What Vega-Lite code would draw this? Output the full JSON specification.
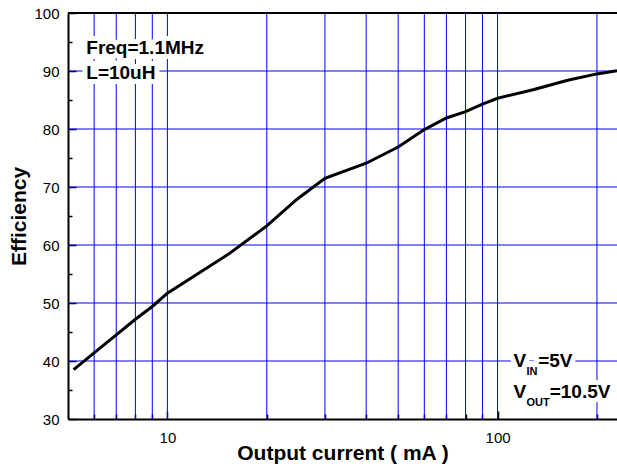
{
  "$schema": "https://vega.github.io/schema/vega-lite/v6.json",
  "width": 549,
  "height": 406,
  "autosize": {"type": "none"},
  "padding": {"left": 68, "top": 13, "right": 0, "bottom": 51},
  "config": {
    "view": {"stroke": null},
    "font": "Liberation Sans",
    "axis": {
      "domainColor": "black",
      "domainWidth": 2,
      "tickColor": "black",
      "tickWidth": 1.5,
      "grid": false,
      "labelFont": "Liberation Sans",
      "labelFontSize": 15,
      "labelColor": "black",
      "titleFont": "Liberation Sans",
      "titleFontSize": 21,
      "titleFontWeight": "bold",
      "titleColor": "black"
    }
  },
  "datasets": {
    "curve": [
      {"current": 5.2, "eff": 38.5},
      {"current": 6, "eff": 41.4},
      {"current": 7, "eff": 44.5},
      {"current": 8, "eff": 47.2},
      {"current": 9, "eff": 49.4},
      {"current": 10, "eff": 51.7},
      {"current": 15.2, "eff": 58.3},
      {"current": 20, "eff": 63.3},
      {"current": 24.7, "eff": 67.9},
      {"current": 30, "eff": 71.5},
      {"current": 40, "eff": 74.1},
      {"current": 50, "eff": 76.9},
      {"current": 60, "eff": 79.9},
      {"current": 70, "eff": 81.9},
      {"current": 80, "eff": 83.0},
      {"current": 90, "eff": 84.3},
      {"current": 100, "eff": 85.3},
      {"current": 129, "eff": 86.8},
      {"current": 163, "eff": 88.4},
      {"current": 200, "eff": 89.5},
      {"current": 230, "eff": 90.05}
    ],
    "vgrid": [
      {"current": 6, "eff": 30, "top": 100},
      {"current": 7, "eff": 30, "top": 100},
      {"current": 8, "eff": 30, "top": 100},
      {"current": 9, "eff": 30, "top": 100},
      {"current": 10, "eff": 30, "top": 100},
      {"current": 20, "eff": 30, "top": 100},
      {"current": 30, "eff": 30, "top": 100},
      {"current": 40, "eff": 30, "top": 100},
      {"current": 50, "eff": 30, "top": 100},
      {"current": 60, "eff": 30, "top": 100},
      {"current": 70, "eff": 30, "top": 100},
      {"current": 80, "eff": 30, "top": 100},
      {"current": 90, "eff": 30, "top": 100},
      {"current": 100, "eff": 30, "top": 100},
      {"current": 200, "eff": 30, "top": 100}
    ],
    "hgrid": [
      {"current": 5, "end": 230, "eff": 40},
      {"current": 5, "end": 230, "eff": 50},
      {"current": 5, "end": 230, "eff": 60},
      {"current": 5, "end": 230, "eff": 70},
      {"current": 5, "end": 230, "eff": 80},
      {"current": 5, "end": 230, "eff": 90}
    ],
    "big": [
      {"label": "Freq=1.1MHz", "current": 5.68, "eff": 92.93},
      {"label": "L=10uH", "current": 5.68, "eff": 88.62},
      {"label": "V", "current": 111.8, "eff": 38.97},
      {"label": "=5V", "current": 132.7, "eff": 38.97},
      {"label": "V", "current": 111.8, "eff": 33.62},
      {"label": "=10.5V", "current": 143.8, "eff": 33.62}
    ],
    "sub": [
      {"label": "IN", "current": 122.4, "eff": 37.59},
      {"label": "OUT", "current": 122.4, "eff": 32.24}
    ],
    "frame": [
      {"current": 5, "end": 230, "eff": 100}
    ]
  },
  "encoding": {
    "x": {
      "field": "current",
      "type": "quantitative",
      "scale": {"type": "log", "domain": [5, 230], "nice": false},
      "axis": {
        "title": "Output current ( mA )",
        "values": [6, 7, 8, 9, 10, 20, 30, 40, 50, 60, 70, 80, 90, 100, 200],
        "labelExpr": "(datum.value == 10 || datum.value == 100) ? format(datum.value, 'd') : ''",
        "grid": false,
        "tickSize": {"condition": {"test": "datum.value == 10 || datum.value == 100", "value": -8}, "value": -5},
        "labelPadding": 19,
        "titleBaseline": "alphabetic",
        "titleY": 40
      }
    },
    "y": {
      "field": "eff",
      "type": "quantitative",
      "scale": {"domain": [30, 100], "nice": false},
      "axis": {
        "title": "Efficiency",
        "values": [30, 35, 40, 45, 50, 55, 60, 65, 70, 75, 80, 85, 90, 95, 100],
        "labelExpr": "datum.value % 10 == 0 ? format(datum.value, 'd') : ''",
        "grid": false,
        "tickSize": {"condition": {"test": "datum.value % 10 == 0", "value": -8}, "value": -4},
        "labelPadding": 17,
        "titleBaseline": "alphabetic",
        "titleX": -43
      }
    }
  },
  "layer": [
    {
      "data": {"name": "vgrid"},
      "mark": {"type": "rule", "color": "#0000ff", "strokeWidth": 1},
      "encoding": {"y2": {"field": "top"}}
    },
    {
      "data": {"name": "hgrid"},
      "mark": {"type": "rule", "color": "#0000ff", "strokeWidth": 1},
      "encoding": {"x2": {"field": "end"}}
    },
    {
      "data": {"name": "curve"},
      "mark": {"type": "line", "color": "black", "strokeWidth": 3, "interpolate": "linear"}
    },
    {
      "data": {"name": "frame"},
      "mark": {"type": "rule", "color": "black", "strokeWidth": 2},
      "encoding": {"x2": {"field": "end"}}
    },
    {
      "data": {"name": "big"},
      "mark": {"type": "text", "align": "left", "baseline": "alphabetic", "font": "Liberation Sans", "fontWeight": "bold", "fontSize": 19, "stroke": "white", "strokeWidth": 10, "fill": "white", "strokeJoin": "miter"},
      "encoding": {"text": {"field": "label"}}
    },
    {
      "data": {"name": "sub"},
      "mark": {"type": "text", "align": "left", "baseline": "alphabetic", "font": "Liberation Sans", "fontWeight": "bold", "fontSize": 11, "stroke": "white", "strokeWidth": 12, "fill": "white", "strokeJoin": "miter"},
      "encoding": {"text": {"field": "label"}}
    },
    {
      "data": {"name": "big"},
      "mark": {"type": "text", "align": "left", "baseline": "alphabetic", "font": "Liberation Sans", "fontWeight": "bold", "fontSize": 19, "color": "black"},
      "encoding": {"text": {"field": "label"}}
    },
    {
      "data": {"name": "sub"},
      "mark": {"type": "text", "align": "left", "baseline": "alphabetic", "font": "Liberation Sans", "fontWeight": "bold", "fontSize": 11, "color": "black"},
      "encoding": {"text": {"field": "label"}}
    }
  ]
}
